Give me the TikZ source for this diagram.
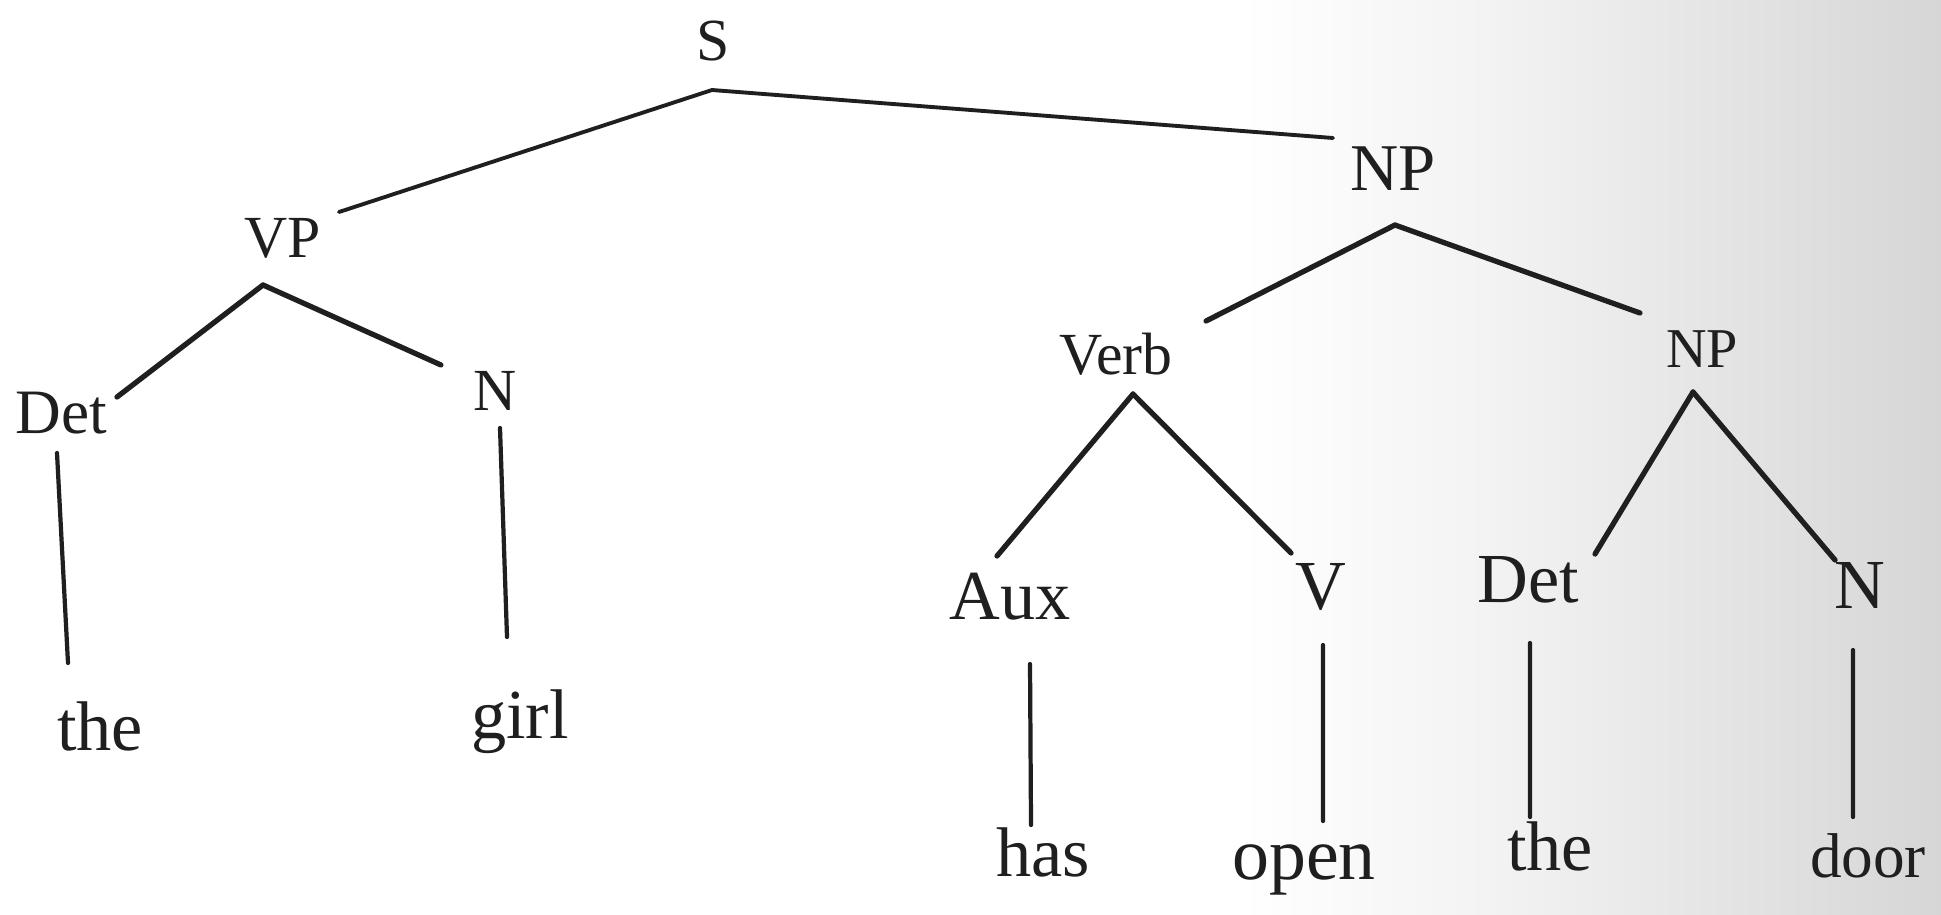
\documentclass[tikz,border=0pt]{standalone}
\usepackage{fontspec}
\setmainfont{Liberation Serif}
\usepackage{tikz}
\usetikzlibrary{positioning}

\begin{document}
\begin{tikzpicture}[font=\fontsize{17}{20}\selectfont,
        cat/.style={anchor=base, inner sep=0pt, text=black!88},
        big/.style={font=\fontsize{20}{24}\selectfont},
        word/.style={anchor=base, inner sep=0pt, text=black!88, font=\fontsize{20}{24}\selectfont},
        branch/.style={draw=black!88, line width=1.5pt, line cap=round},
        stem/.style={draw=black!88, line width=1.2pt, line cap=round}]
        \useasboundingbox (0,0) rectangle (19.41,9.14);
        % scanned page: white on the left, greyer to the right
        \fill[white] (0,0) rectangle (19.41,9.14);
        \shade[left color=white, right color=black!5] (12.4,0) rectangle (15.0,9.14);
        \shade[left color=black!5, right color=black!16] (15.0,0) rectangle (19.41,9.14);

        \node[cat] (s) at (7.13,8.54) {S};
        \node[cat] (vp) at (2.83,6.57) {VP};
        \node[cat, font=\fontsize{19}{22}\selectfont] (np) at (13.93,7.24) {NP};
        \node[cat, font=\fontsize{18}{21}\selectfont] (detl) at (0.61,4.81) {Det};
        \node[cat] (nl) at (4.95,5.04) {N};
        \node[word] (thel) at (1.00,1.64) {the};
        \node[word] (girl) at (5.20,1.76) {girl};
        \node[cat] (verb) at (11.16,5.40) {Verb};
        \node[cat, font=\fontsize{16}{19}\selectfont] (npr) at (17.02,5.47) {NP};
        \node[cat, big] (aux) at (10.10,2.95) {Aux};
        \node[cat, big] (v) at (13.21,3.05) {V};
        \node[cat, big] (detr) at (15.28,3.12) {Det};
        \node[cat, big] (nr) at (18.60,3.06) {N};
        \node[word] (has) at (10.43,0.38) {has};
        \node[word, font=\fontsize{21}{25}\selectfont] (open) at (13.04,0.35) {open};
        \node[word] (ther) at (15.50,0.44) {the};
        \node[word, font=\fontsize{18}{22}\selectfont] (door) at (18.68,0.37) {door};

        \draw[branch, line width=1.1pt] ([shift={(-0.01,-0.30)}]s.base) -- ([shift={(0.56,0.45)}]vp.base);
        \draw[branch, line width=1.1pt] ([shift={(-0.01,-0.30)}]s.base) -- ([shift={(-0.60,0.52)}]np.base);
        \draw[branch] ([shift={(-0.20,-0.28)}]vp.base) -- ([shift={(0.56,0.36)}]detl.base);
        \draw[branch] ([shift={(-0.20,-0.28)}]vp.base) -- ([shift={(-0.54,0.45)}]nl.base);
        \draw[stem] ([shift={(-0.04,-0.20)}]detl.base) -- ([shift={(-0.32,0.87)}]thel.base);
        \draw[stem] ([shift={(0.05,-0.18)}]nl.base) -- ([shift={(-0.13,1.01)}]girl.base);
        \draw[branch] ([shift={(0.02,-0.35)}]np.base) -- ([shift={(0.90,0.53)}]verb.base);
        \draw[branch] ([shift={(0.02,-0.35)}]np.base) -- ([shift={(-0.62,0.54)}]npr.base);
        \draw[branch] ([shift={(0.17,-0.20)}]verb.base) -- ([shift={(-0.13,0.63)}]aux.base);
        \draw[branch] ([shift={(0.17,-0.20)}]verb.base) -- ([shift={(-0.30,0.56)}]v.base);
        \draw[branch] ([shift={(-0.09,-0.25)}]npr.base) -- ([shift={(0.67,0.48)}]detr.base);
        \draw[branch] ([shift={(-0.09,-0.25)}]npr.base) -- ([shift={(-0.25,0.48)}]nr.base);
        \draw[stem] ([shift={(0.20,-0.45)}]aux.base) -- ([shift={(-0.12,0.51)}]has.base);
        \draw[stem] ([shift={(0.02,-0.36)}]v.base) -- ([shift={(0.19,0.58)}]open.base);
        \draw[stem] ([shift={(0.02,-0.41)}]detr.base) -- ([shift={(-0.20,0.53)}]ther.base);
        \draw[stem] ([shift={(-0.07,-0.42)}]nr.base) -- ([shift={(-0.15,0.60)}]door.base);
    \end{tikzpicture}
\end{document}
